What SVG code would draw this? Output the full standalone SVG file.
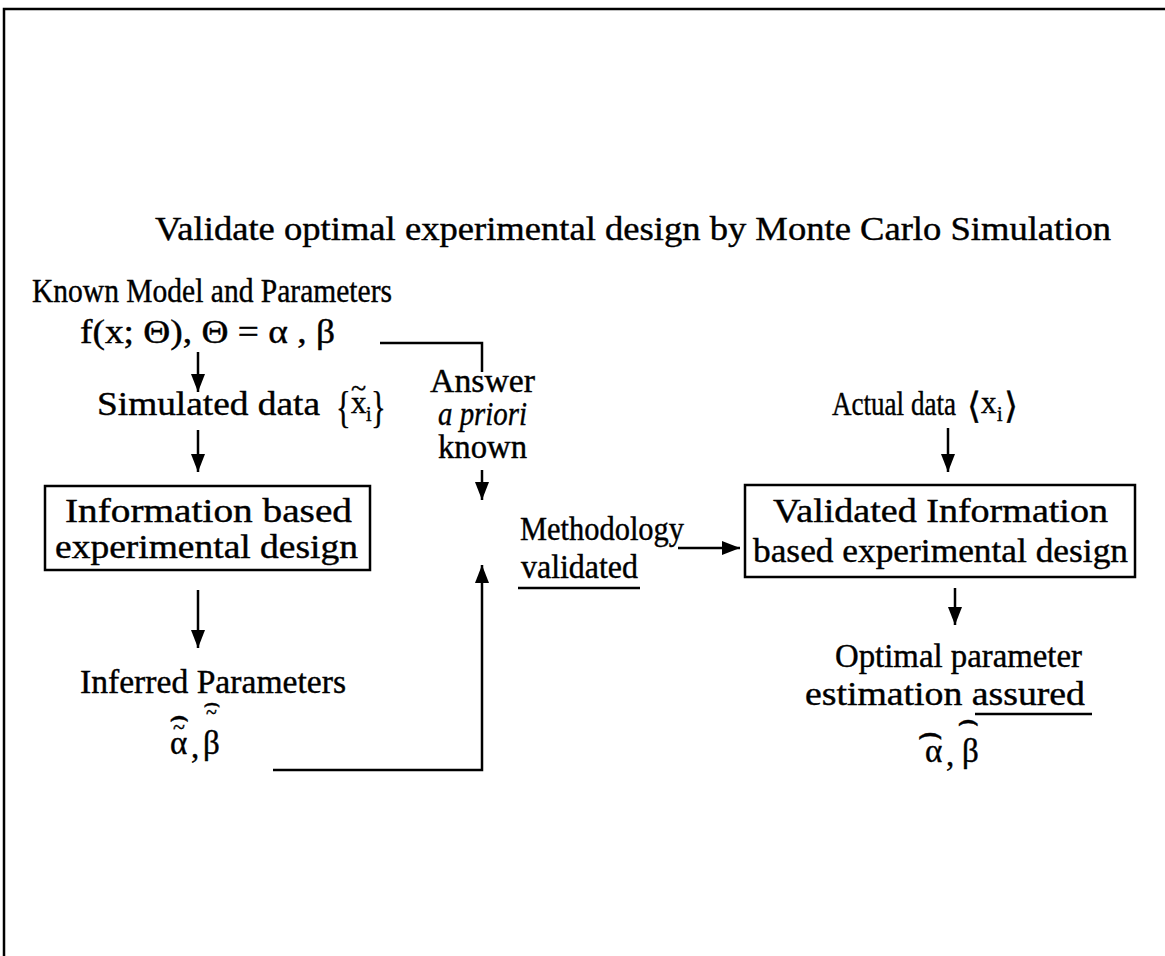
<svg xmlns="http://www.w3.org/2000/svg" width="1165" height="956" viewBox="0 0 1165 956">
<defs>
<marker id="ah" viewBox="0 0 18 14" refX="18" refY="7" markerWidth="19" markerHeight="14" markerUnits="userSpaceOnUse" orient="auto">
<path d="M0,0 L18,7 L0,14 z" fill="#000"/>
</marker>
</defs>
<style>
text{font-family:"Liberation Serif","Times New Roman",serif;font-size:33px;fill:#000;stroke:#000;stroke-width:0.4}
.it{font-style:italic}
.sub{font-size:20px}
.ln{fill:none;stroke:#000;stroke-width:2.5}
.box{fill:none;stroke:#000;stroke-width:2.5}
</style>
<rect width="1165" height="956" fill="#fff"/>
<g id="frame">
<path class="ln" d="M4,956 L4,9 L1165,9" stroke-width="3"/>
</g>
<g id="title">
<text x="155" y="240" textLength="956" lengthAdjust="spacingAndGlyphs">Validate optimal experimental design by Monte Carlo Simulation</text>
</g>
<g id="known">
<text x="32" y="302" textLength="360" lengthAdjust="spacingAndGlyphs">Known Model and Parameters</text>
<text x="80" y="343" textLength="255" lengthAdjust="spacingAndGlyphs">f(x; Θ), Θ = α , β</text>
</g>
<g id="simulated">
<text x="97" y="415" textLength="223" lengthAdjust="spacingAndGlyphs">Simulated data</text>
<text x="336" y="422" style="font-size:44px" transform="translate(336 0) scale(0.7 1) translate(-336 0)">{</text>
<text x="351" y="413" style="font-size:31px">x</text>
<text x="351" y="397" style="font-size:28px">~</text>
<text x="366" y="421" class="sub">i</text>
<text x="371" y="422" style="font-size:44px" transform="translate(371 0) scale(0.7 1) translate(-371 0)">}</text>
</g>
<g id="infodesign">
<rect class="box" x="45" y="486" width="325" height="84"/>
<text x="65" y="522" textLength="287" lengthAdjust="spacingAndGlyphs">Information based</text>
<text x="55" y="558" textLength="303" lengthAdjust="spacingAndGlyphs">experimental design</text>
</g>
<g id="inferred">
<text x="80" y="693" textLength="266" lengthAdjust="spacingAndGlyphs">Inferred Parameters</text>
<text x="170" y="754">α</text>
<text x="191" y="758">,</text>
<text x="203" y="754">β</text>
<text x="169" y="727" style="font-size:31px">⌢</text>
<text x="173" y="734" style="font-size:22px">~</text>
<text x="203" y="712" style="font-size:27px">⌢</text>
<text x="206" y="719" style="font-size:20px">~</text>
</g>
<g id="answer">
<text x="430" y="392" textLength="105" lengthAdjust="spacingAndGlyphs">Answer</text>
<text class="it" x="438" y="425" textLength="89" lengthAdjust="spacingAndGlyphs">a priori</text>
<text x="438" y="458" textLength="89" lengthAdjust="spacingAndGlyphs">known</text>
</g>
<g id="methodology">
<text x="520" y="540" textLength="164" lengthAdjust="spacingAndGlyphs">Methodology</text>
<text x="521" y="578" textLength="117" lengthAdjust="spacingAndGlyphs">validated</text>
<line class="ln" x1="518" y1="588" x2="640" y2="588" stroke-width="2"/>
</g>
<g id="actual">
<text x="832" y="415" textLength="124" lengthAdjust="spacingAndGlyphs">Actual data</text>
<text x="967" y="418" style="font-size:36px">⟨</text>
<text x="981" y="413" style="font-size:31px">x</text>
<text x="997" y="421" class="sub">i</text>
<text x="1004" y="418" style="font-size:36px">⟩</text>
</g>
<g id="validdesign">
<rect class="box" x="745" y="485" width="390" height="92"/>
<text x="773" y="522" textLength="335" lengthAdjust="spacingAndGlyphs">Validated Information</text>
<text x="753" y="562" textLength="375" lengthAdjust="spacingAndGlyphs">based experimental design</text>
</g>
<g id="optimal">
<text x="835" y="667" textLength="247" lengthAdjust="spacingAndGlyphs">Optimal parameter</text>
<text x="805" y="705" textLength="280" lengthAdjust="spacingAndGlyphs">estimation assured</text>
<line class="ln" x1="975" y1="714" x2="1092" y2="714" stroke-width="2"/>
<text x="925" y="762">α</text>
<text x="946" y="766">,</text>
<text x="962" y="762">β</text>
<text x="917" y="746" style="font-size:40px">⌢</text>
<text x="957" y="731" style="font-size:34px">⌢</text>
</g>
<g id="connectors">
<line class="ln" x1="198" y1="352" x2="198" y2="392" marker-end="url(#ah)"/>
<line class="ln" x1="198" y1="430" x2="198" y2="472" marker-end="url(#ah)"/>
<line class="ln" x1="198" y1="590" x2="198" y2="648" marker-end="url(#ah)"/>
<polyline class="ln" points="380,343 482,343 482,372"/>
<line class="ln" x1="482" y1="470" x2="482" y2="500" marker-end="url(#ah)"/>
<polyline class="ln" points="273,770 482,770 482,565" marker-end="url(#ah)"/>
<line class="ln" x1="678" y1="548" x2="740" y2="548" marker-end="url(#ah)"/>
<line class="ln" x1="948" y1="428" x2="948" y2="472" marker-end="url(#ah)"/>
<line class="ln" x1="955" y1="588" x2="955" y2="625" marker-end="url(#ah)"/>
</g>
</svg>
